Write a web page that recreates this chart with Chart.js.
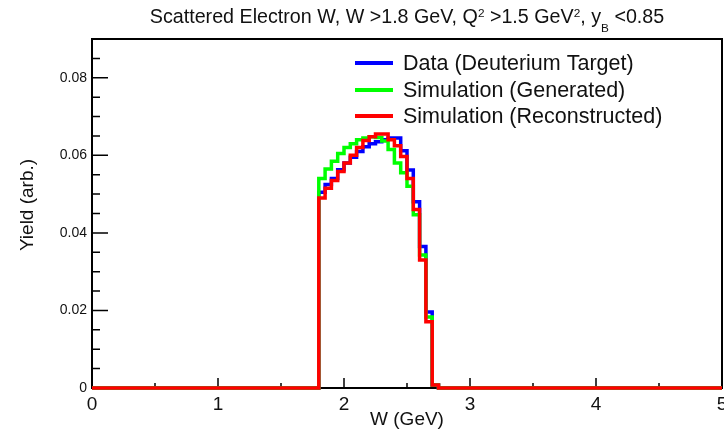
<!DOCTYPE html>
<html>
<head>
<meta charset="utf-8">
<script src="https://cdn.jsdelivr.net/npm/chart.js@4.4.1/dist/chart.umd.min.js"></script>
<style>
html,body{margin:0;padding:0;background:#fff;}
#wrap{position:relative;width:724px;height:432px;overflow:hidden;}
canvas{position:absolute;left:0;top:0;}
#title{position:absolute;left:92px;width:630px;top:3px;text-align:center;font-family:"Liberation Sans",Arial,sans-serif;font-size:19.7px;line-height:26px;color:#111;white-space:nowrap;}
#title sup{font-size:60%;vertical-align:0.55em;line-height:0;}
#title sub{font-size:60%;vertical-align:-0.75em;line-height:0;}
</style>
</head>
<body>
<div id="wrap">
<canvas id="c" width="724" height="432"></canvas>
<div id="title">Scattered Electron W, W &gt;1.8 GeV, Q<sup>2</sup> &gt;1.5 GeV<sup>2</sup>, y<sub>B</sub> &lt;0.85</div>
</div>
<script>
// ---- data ----
const wRange = [0, 5];                       // histogram axis range (GeV)
const wBinLowEdges = [1.80, 1.85, 1.90, 1.95, 2.00, 2.05, 2.10, 2.15, 2.20, 2.25,
                      2.30, 2.35, 2.40, 2.45, 2.50, 2.55, 2.60, 2.65, 2.70];
const wLastEdge = 2.75;                      // upper edge of last filled bin
const dataDeuterium = [0.0505, 0.0525, 0.0540, 0.0563, 0.0580, 0.0595, 0.0610, 0.0622, 0.0630, 0.0635,
                       0.0640, 0.0645, 0.0645, 0.0612, 0.0562, 0.0480, 0.0365, 0.0196, 0.0008];
const simGenerated = [0.0540, 0.0565, 0.0585, 0.0605, 0.0620, 0.0630, 0.0640, 0.0645, 0.0648, 0.0646,
                      0.0637, 0.0615, 0.0580, 0.0555, 0.0520, 0.0447, 0.0343, 0.0183, 0.0008];
const simReconstructed = [0.0490, 0.0515, 0.0535, 0.0558, 0.0580, 0.0600, 0.0620, 0.0638, 0.0648, 0.0655,
                          0.0655, 0.0640, 0.0625, 0.0597, 0.0540, 0.0460, 0.0330, 0.0171, 0.0008];
const seriesLabels = ['Data (Deuterium Target)', 'Simulation (Generated)', 'Simulation (Reconstructed)'];
const seriesColors = ['#0000ff', '#00ff00', '#ff0000'];
const xTitle = 'W (GeV)';
const yTitle = 'Yield (arb.)';
const xMajorTicks = [0, 1, 2, 3, 4, 5];
const xMinorTicks = [0.5, 1.5, 2.5, 3.5, 4.5];
const yMajorTicks = [0, 0.02, 0.04, 0.06, 0.08];
const yMinorTicks = [0.005, 0.01, 0.015, 0.025, 0.03, 0.035, 0.045, 0.05, 0.055, 0.065, 0.07, 0.075, 0.085];
const yRange = [0, 0.09];

function histPoints(values) {
  const pts = [{x: wRange[0], y: 0}];
  wBinLowEdges.forEach((e, i) => pts.push({x: e, y: values[i]}));
  pts.push({x: wLastEdge, y: 0});
  pts.push({x: wRange[1], y: 0});
  return pts;
}

const FONT = '"Liberation Sans", Arial, Helvetica, sans-serif';
Chart.defaults.font.family = FONT;
Chart.defaults.color = '#111';

const framePlugin = {
  id: 'frame',
  beforeDatasetsDraw(chart) {
    const {ctx, chartArea: a, scales: {x, y}} = chart;
    ctx.save();
    ctx.strokeStyle = '#000';
    ctx.lineWidth = 2;
    ctx.strokeRect(a.left, a.top, a.right - a.left, a.bottom - a.top);
    ctx.lineWidth = 1.5;
    ctx.beginPath();
    yMajorTicks.forEach(v => { const py = y.getPixelForValue(v); ctx.moveTo(a.left, py); ctx.lineTo(a.left + 16, py); });
    yMinorTicks.forEach(v => { const py = y.getPixelForValue(v); ctx.moveTo(a.left, py); ctx.lineTo(a.left + 8, py); });
    xMajorTicks.forEach(v => { const px = x.getPixelForValue(v); ctx.moveTo(px, a.bottom); ctx.lineTo(px, a.bottom - 10); });
    xMinorTicks.forEach(v => { const px = x.getPixelForValue(v); ctx.moveTo(px, a.bottom); ctx.lineTo(px, a.bottom - 5); });
    ctx.stroke();
    // y axis title (rotated)
    ctx.font = '19px ' + FONT;
    ctx.fillStyle = '#111';
    ctx.textAlign = 'center';
    ctx.textBaseline = 'middle';
    ctx.translate(28, 205);
    ctx.rotate(-Math.PI / 2);
    ctx.fillText(yTitle, 0, 0);
    ctx.restore();
  }
};

const legendPlugin = {
  id: 'innerLegend',
  afterDraw(chart) {
    const {ctx} = chart;
    const rows = [63, 90, 116];
    ctx.save();
    ctx.font = '21.5px ' + FONT;
    ctx.textBaseline = 'middle';
    ctx.textAlign = 'left';
    chart.data.datasets.forEach((ds, i) => {
      ctx.strokeStyle = ds.borderColor;
      ctx.lineWidth = 4;
      ctx.beginPath();
      ctx.moveTo(355, rows[i]);
      ctx.lineTo(393, rows[i]);
      ctx.stroke();
      ctx.fillStyle = '#111';
      ctx.fillText(ds.label, 403, rows[i] + 1);
    });
    ctx.restore();
  }
};

const ds = [dataDeuterium, simGenerated, simReconstructed].map((vals, i) => ({
  label: seriesLabels[i],
  data: histPoints(vals),
  borderColor: seriesColors[i],
  backgroundColor: seriesColors[i],
  borderWidth: 3.5,
  stepped: 'before',
  pointRadius: 0,
  fill: false,
  clip: 6,
  order: 2 - i
}));

new Chart(document.getElementById('c'), {
  type: 'line',
  data: {datasets: ds},
  options: {
    responsive: false,
    animation: false,
    devicePixelRatio: 1,
    layout: {padding: {top: 39, right: 2, left: 0, bottom: 0}},
    plugins: {legend: {display: false}, tooltip: {enabled: false}, title: {display: false}},
    scales: {
      x: {
        type: 'linear', min: wRange[0], max: wRange[1],
        grid: {display: false, drawTicks: false},
        border: {display: false},
        ticks: {stepSize: 1, autoSkip: false, maxRotation: 0, padding: 5, color: '#111', font: {size: 19}},
        title: {display: true, text: xTitle, color: '#111', font: {size: 19}, padding: {top: 0, bottom: 1}},
        afterFit(s) { s.height = 44; s.paddingLeft = 0; s.paddingRight = 0; }
      },
      y: {
        type: 'linear', min: yRange[0], max: yRange[1],
        grid: {display: false, drawTicks: false},
        border: {display: false},
        ticks: {stepSize: 0.02, includeBounds: false, padding: 5, color: '#111', font: {size: 14},
                callback: v => (yMajorTicks.some(t => Math.abs(t - v) < 1e-9) ? (v === 0 ? '0' : v.toFixed(2)) : null)},
        title: {display: false},
        afterFit(s) { s.width = 92; s.paddingTop = 0; s.paddingBottom = 0; }
      }
    }
  },
  plugins: [framePlugin, legendPlugin]
});
</script>
</body>
</html>
